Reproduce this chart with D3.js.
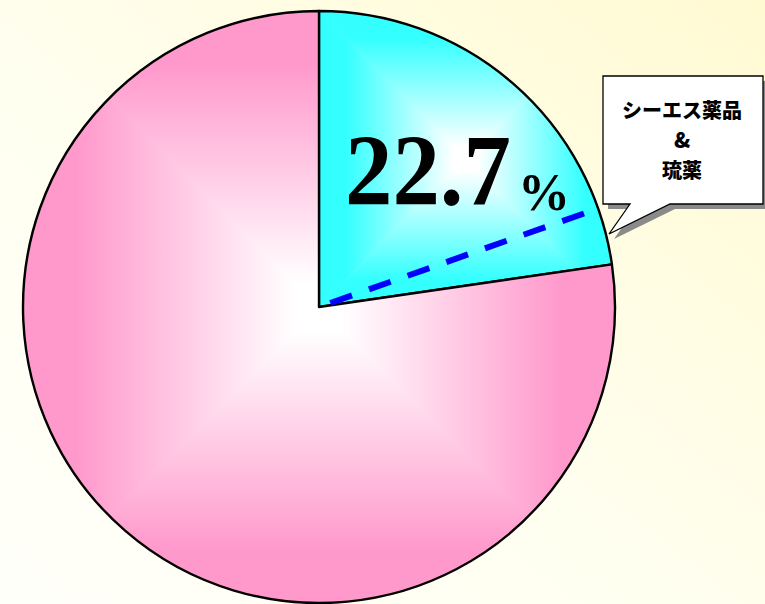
<!DOCTYPE html>
<html>
<head>
<meta charset="utf-8">
<script src="https://cdn.jsdelivr.net/npm/d3@7"></script>
<style>
html,body{margin:0;padding:0;overflow:hidden;background:#fffff4;}
svg{display:block;}
</style>
</head>
<body>
<script>
// ---- data ----
const categories = ["シーエス薬品 & 琉薬", "その他"];
const values = [22.7, 77.3];
const sliceColors = ["#33ffff", "#ff99cc"];
const labelLines = ["シーエス薬品", "&", "琉薬"];
const valueLabel = ["22.7", "%"];
const markerValues = [19.6]; // dashed reference line share (%)

const W = 765, H = 604;
const cx = 319, cy = 307, R = 296;

const svg = d3.select("body").append("svg").attr("width", W).attr("height", H);
const defs = svg.append("defs");

// background
const bg = defs.append("linearGradient").attr("id", "bg")
  .attr("x1", "100%").attr("y1", "0%").attr("x2", "0%").attr("y2", "100%");
bg.append("stop").attr("offset", "0%").attr("stop-color", "#fffad2");
bg.append("stop").attr("offset", "55%").attr("stop-color", "#fffff0");
bg.append("stop").attr("offset", "100%").attr("stop-color", "#fffffa");
svg.append("rect").attr("width", W).attr("height", H).attr("fill", "url(#bg)");

const pie = d3.pie().sort(null).value(d => d)(values);
const arc = d3.arc().innerRadius(0).outerRadius(R);

const g = svg.append("g").attr("transform", `translate(${cx},${cy})`);

pie.forEach((p, i) => {
  const d = arc(p);
  defs.append("clipPath").attr("id", "clip" + i).append("path").attr("d", d);
  const tmp = g.append("path").attr("d", d).attr("fill", "none");
  const bb = tmp.node().getBBox();
  tmp.remove();
  const mx = bb.x + bb.width / 2, my = bb.y + bb.height / 2;
  const hx = bb.width / 2, hy = bb.height / 2;
  const col = sliceColors[i];
  const sg = g.append("g").attr("clip-path", `url(#clip${i})`);
  const dirs = [
    {ex: mx, ey: my - hy, pts: [[mx, my], [mx - hx, my - hy], [mx + hx, my - hy]]},
    {ex: mx + hx, ey: my, pts: [[mx, my], [mx + hx, my - hy], [mx + hx, my + hy]]},
    {ex: mx, ey: my + hy, pts: [[mx, my], [mx + hx, my + hy], [mx - hx, my + hy]]},
    {ex: mx - hx, ey: my, pts: [[mx, my], [mx - hx, my + hy], [mx - hx, my - hy]]}
  ];
  dirs.forEach((dd, k) => {
    const id = `gr${i}_${k}`;
    const lg = defs.append("linearGradient").attr("id", id)
      .attr("gradientUnits", "userSpaceOnUse")
      .attr("x1", mx).attr("y1", my).attr("x2", dd.ex).attr("y2", dd.ey);
    lg.append("stop").attr("offset", "0").attr("stop-color", "#ffffff");
    lg.append("stop").attr("offset", "0.08").attr("stop-color", "#ffffff");
    lg.append("stop").attr("offset", "0.82").attr("stop-color", col);
    lg.append("stop").attr("offset", "1").attr("stop-color", col);
    sg.append("path")
      .attr("d", "M" + dd.pts.map(p => p.join(",")).join("L") + "Z")
      .attr("fill", `url(#${id})`)
      .attr("stroke", `url(#${id})`).attr("stroke-width", 0.6);
  });
  g.append("path").attr("d", d).attr("fill", "none")
    .attr("stroke", "#000").attr("stroke-width", 2.4).attr("stroke-linejoin", "round");
});

// dashed marker line
const ang = d3.scaleLinear().domain([0, 100]).range([0, 2 * Math.PI]);
markerValues.forEach(v => {
  const a = ang(v);
  const r0 = 12, r1 = 282;
  g.append("line")
    .attr("x1", r0 * Math.sin(a)).attr("y1", -r0 * Math.cos(a))
    .attr("x2", r1 * Math.sin(a)).attr("y2", -r1 * Math.cos(a))
    .attr("stroke", "#0000ff").attr("stroke-width", 6)
    .attr("stroke-dasharray", "23,18");
});

// value label
const vt = svg.append("text").attr("x", 345).attr("y", 205)
  .attr("font-family", "'Liberation Serif','Times New Roman',serif")
  .attr("font-weight", "bold").attr("fill", "#000");
vt.append("tspan").attr("font-size", 101).attr("textLength", 166)
  .attr("lengthAdjust", "spacingAndGlyphs").text(valueLabel[0]);
vt.append("tspan").attr("font-size", 52).attr("dx", 7).attr("dy", 5).text(valueLabel[1]);

// callout
const callout = "M603,76 H763 V204 H670 L609,234 L630,204 H603 Z";
svg.append("path").attr("d", callout).attr("transform", "translate(5,5)")
  .attr("fill", "#8a8a8a");
svg.append("path").attr("d", callout).attr("fill", "#ffffff")
  .attr("stroke", "#000").attr("stroke-width", 1.3);
labelLines.forEach((t, i) => {
  svg.append("text").attr("x", 682).attr("y", 118 + i * 30)
    .attr("text-anchor", "middle")
    .attr("font-family", "'Noto Sans CJK JP','Noto Sans',sans-serif")
    .attr("font-weight", 900).attr("font-size", i === 1 ? 21 : 20)
    .attr("fill", "#000").text(t);
});
</script>
</body>
</html>
